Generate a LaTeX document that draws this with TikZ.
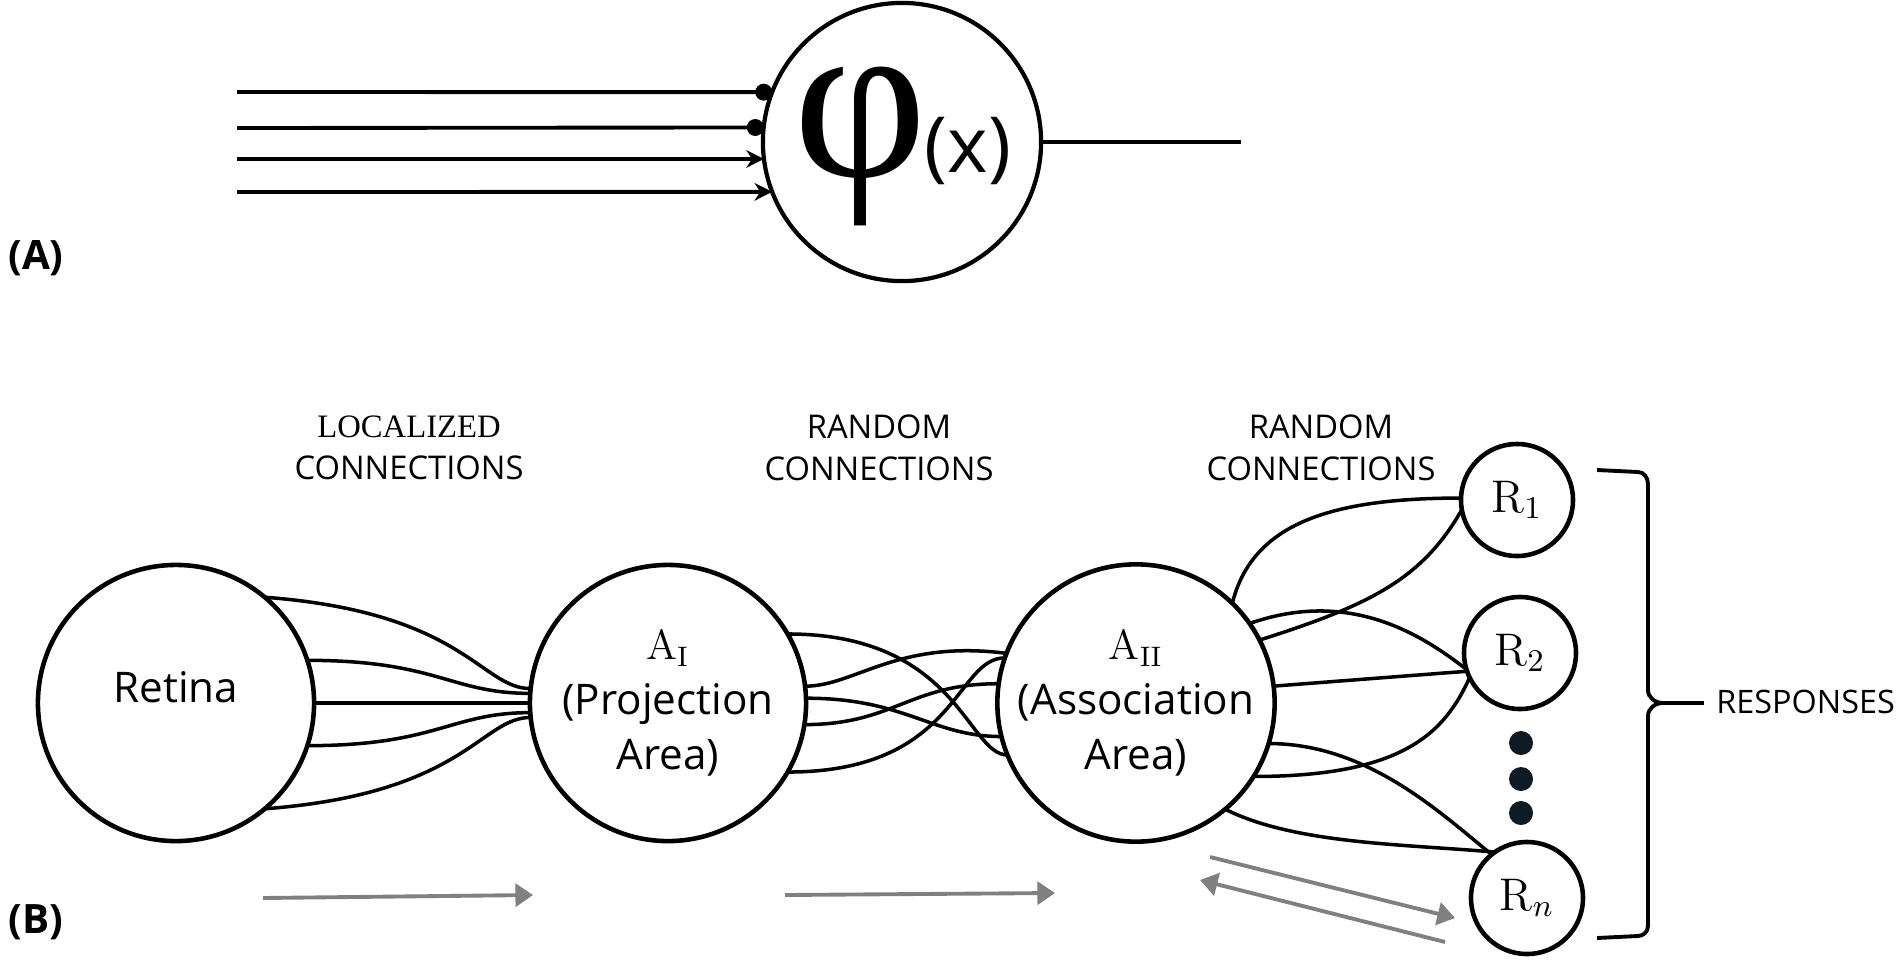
\documentclass[tikz,border=0pt]{standalone}
\usepackage{fontspec}
\usepackage{tikz}
\usetikzlibrary{arrows.meta}
\newfontfamily\opensans{Open Sans}
\newfontfamily\tnr{Liberation Serif}
\definecolor{dotnavy}{HTML}{0E1A24}
\tikzstyle{area} = [draw,circle,line width=1.3pt,inner sep=0pt,outer sep=0pt,minimum size=2.76cm,align=center,font=\opensans\fontsize{12}{15.6}\selectfont]
\tikzstyle{resp} = [draw,circle,line width=1.3pt,inner sep=0pt,outer sep=0pt,minimum size=1.12cm,font=\fontsize{13}{15}\selectfont]
\tikzstyle{gapdot} = [circle,fill=dotnavy,inner sep=0pt,minimum size=0.24cm]
\tikzstyle{wire} = [line width=1pt]
\tikzstyle{flow} = [gray,line width=1.1pt,-{Triangle[length=5pt,width=6.5pt]}]
\tikzstyle{caption} = [align=center,font=\opensans\fontsize{9.3}{11.9}\selectfont]
\tikzstyle{panel} = [font=\opensans\bfseries\fontsize{11.5}{13}\selectfont]

\begin{document}
\begin{tikzpicture}[x=0.01cm,y=0.01cm]
    \useasboundingbox (0,0) rectangle (1902,-960);

    % (A) the unit
    \node[draw,circle,line width=1.2pt,inner sep=0pt,outer sep=0pt,minimum size=2.78cm] at (902,-142) (phi) {};
    \node[inner sep=0pt] at (860,-146) (phisym) {\tnr\fontsize{66}{66}\selectfont φ};
    \node[inner sep=0pt,anchor=base west] at (924,-172) (phiarg) {\opensans\fontsize{22}{22}\selectfont(x)};
    \coordinate (in1) at (237,-92);
    \coordinate (in2) at (237,-128);
    \coordinate (in3) at (237,-159);
    \coordinate (in4) at (237,-192);
    \coordinate (out) at (1241,-142);
    \draw[line width=1.1pt,-{Circle[length=4.8pt]}] (in1) -- (phi.159);
    \draw[line width=1.1pt,-{Circle[length=4.8pt]}] (in2) -- (phi.174);
    \draw[line width=1.1pt,-{Stealth[length=5pt,width=5pt]}] (in3) -- (phi.187);
    \draw[line width=1.1pt,-{Stealth[length=5pt,width=5pt]}] (in4) -- (phi.201);
    \draw[line width=1.1pt] (phi.east) -- (out);
    \node[panel] at (36,-258) (pa) {(A)};

    % (B) the perceptron
    \node[panel] at (36,-922) (pb) {(B)};
    \node[area] at (176,-703) (ret) {\raisebox{0.32cm}{Retina}};
    \node[area] at (668,-703) (proj) {$\mathrm{A}_{\mathrm{I}}$\\(Projection\\Area)};
    \node[area] at (1136,-703) (assoc) {$\mathrm{A}_{\mathrm{II}}$\\(Association\\Area)};
    \node[resp] at (1517,-500) (r1) {$\mathrm{R}_1$};
    \node[resp] at (1520,-653) (r2) {$\mathrm{R}_2$};
    \node[resp] at (1527,-898) (rn) {$\mathrm{R}_n$};
    \node[gapdot] at (1521,-743) (dot1) {};
    \node[gapdot] at (1521,-779) (dot2) {};
    \node[gapdot] at (1521,-813) (dot3) {};

    \node[caption] at (409,-448) (loc) {{\tnr LOCALIZED}\\CONNECTIONS};
    \node[caption] at (879,-448) (rand1) {RANDOM\\CONNECTIONS};
    \node[caption] at (1321,-448) (rand2) {RANDOM\\CONNECTIONS};

    \draw[wire] (ret.50) .. controls +(200,-15) and +(-50,0) .. (proj.174);
    \draw[wire] (ret.18) .. controls +(130,0) and +(-80,0) .. (proj.176);
    \draw[wire] (ret.0) -- (proj.180);
    \draw[wire] (ret.-18) .. controls +(130,0) and +(-80,0) .. (proj.184);
    \draw[wire] (ret.-50) .. controls +(200,15) and +(-50,0) .. (proj.186);

    \draw[wire] (proj.30) .. controls +(170,0) and +(-40,0) .. (assoc.202);
    \draw[wire] (proj.7) .. controls +(50,0) and +(-110,14) .. (assoc.159);
    \draw[wire] (proj.2) .. controls +(100,0) and +(-70,0) .. (assoc.194);
    \draw[wire] (proj.-9) .. controls +(90,0) and +(-90,0) .. (assoc.172);
    \draw[wire] (proj.-30) .. controls +(170,0) and +(-50,0) .. (assoc.161);

    \draw[wire] (assoc.46) .. controls +(20,80) and +(-130,0) .. (r1.178);
    \draw[wire] (assoc.27) .. controls +(110,35) and +(-40,-70) .. (r1.190);
    \draw[wire] (assoc.35) .. controls +(100,35) and +(-45,35) .. (r2.197);
    \draw[wire] (assoc.7) -- (r2.199);
    \draw[wire] (assoc.-17) .. controls +(100,0) and +(-50,40) .. (rn.129);
    \draw[wire] (assoc.-32) .. controls +(150,0) and +(-25,-55) .. (r2.206);
    \draw[wire] (assoc.-50) .. controls +(70,-35) and +(-90,8) .. (rn.125);

    % signal flow
    \coordinate (f1a) at (263,-898);
    \coordinate (f1b) at (533,-895);
    \coordinate (f2a) at (785,-895);
    \coordinate (f2b) at (1055,-893);
    \coordinate (f3a) at (1210,-857);
    \coordinate (f3b) at (1455,-918);
    \coordinate (f4a) at (1445,-942);
    \coordinate (f4b) at (1200,-880);
    \draw[flow] (f1a) -- (f1b);
    \draw[flow] (f2a) -- (f2b);
    \draw[flow] (f3a) -- (f3b);
    \draw[flow] (f4a) -- (f4b);

    % brace
    \coordinate (tip) at (1663,-703);
    \draw[line width=1.1pt] (1597,-470) -- (1638,-472) to[out=0,in=90] (1648,-484) -- (1648,-690)
        to[out=-90,in=180] (tip) to[out=180,in=90] (1648,-716) -- (1648,-926)
        to[out=-90,in=0] (1638,-936) -- (1597,-938);
    \node[anchor=west,font=\opensans\fontsize{9.2}{11}\selectfont] at (1704,-702) (resp) {RESPONSES};
    \draw[line width=1.1pt] (tip) -- (tip -| resp.west);
\end{tikzpicture}
\end{document}
